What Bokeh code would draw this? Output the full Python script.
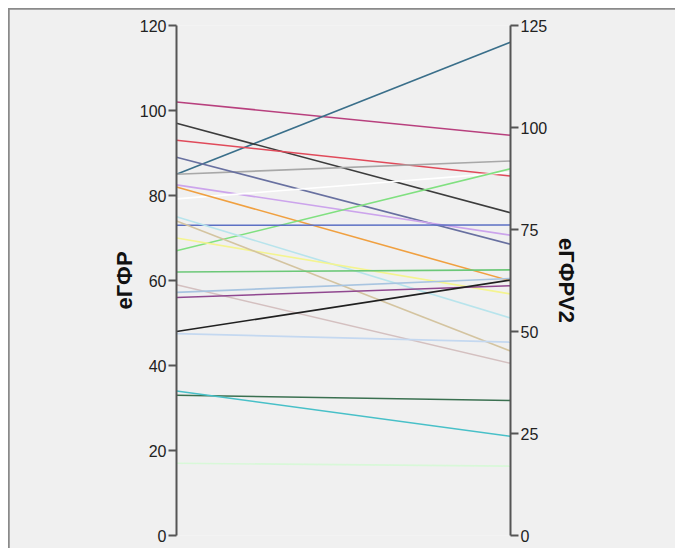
from bokeh.plotting import figure
from bokeh.models import Range1d, LinearAxis, FixedTicker
from bokeh.embed import file_html
from bokeh.resources import INLINE

# eGFR at visit 1 (left axis) and visit 2 (right axis), one line per patient
egfr_v1 = [102, 85, 97, 93, 85, 89, 82.5, 79.2, 82, 67, 73, 75, 70, 74, 62, 59, 57.2, 56, 48, 47.5, 33, 34, 17]
egfr_v2 = [98.1, 120.9, 79.1, 88.1, 91.8, 71.4, 73.6, 89.0, 62.4, 89.9, 76.1, 53.3, 59.2, 45.2, 65.1, 42.2, 63.0, 61.2, 62.6, 47.4, 33.1, 24.3, 17.0]
line_colors = ["#b8407e", "#3a6f8a", "#3c3c3c", "#e04a5a", "#a8a8a8", "#6870a0",
               "#cca4ec", "#ffffff", "#f0a040", "#80e080", "#5c70c4", "#b8e4ec",
               "#f4f490", "#d4c4a0", "#6cc878", "#d4c0c0", "#a8c4e0", "#904890",
               "#202020", "#c4d8f0", "#3a7050", "#48c0c8", "#d8f8d8"]

left_ticks = [0, 20, 40, 60, 80, 100, 120]
right_ticks = [0, 25, 50, 75, 100, 125]
left_title = "еГФР"
right_title = "еГФРV2"
LEFT_MAX = 120
RIGHT_MAX = 125

BG = "#f0f0f0"
AXIS_COLOR = "#555555"
FONT = "Liberation Sans"

p = figure(width=666, height=539, output_backend="svg", toolbar_location=None,
           x_range=Range1d(0, 1), y_range=Range1d(0, LEFT_MAX),
           min_border_left=167, min_border_right=165, min_border_top=16, min_border_bottom=13,
           background_fill_color=BG, border_fill_color=BG, outline_line_color=None,
           x_axis_location=None, y_axis_location=None)
p.extra_y_ranges = {"v2": Range1d(0, RIGHT_MAX)}
p.grid.visible = False
p.styles = {"margin": "9px 0 0 9px", "outline": "2px solid #8a8a8a", "outline-offset": "-1px"}

# map visit-2 values onto the shared frame height (parallel coordinates)
scale = LEFT_MAX / RIGHT_MAX
for a, b, c in zip(egfr_v1, egfr_v2, line_colors):
    p.line([0, 1], [a, b * scale], line_color=c, line_width=1.6)

def style_axis(ax, ticks, title, standoff):
    ax.ticker = FixedTicker(ticks=ticks)
    ax.axis_label = title
    ax.axis_label_text_font = FONT
    ax.axis_label_text_font_style = "bold"
    ax.axis_label_text_font_size = "22px"
    ax.axis_label_text_color = "#111111"
    ax.axis_label_standoff = standoff
    ax.major_label_text_font = FONT
    ax.major_label_text_font_size = "16px"
    ax.major_label_text_color = "#222222"
    ax.major_label_standoff = 2
    ax.axis_line_color = AXIS_COLOR
    ax.axis_line_width = 2
    ax.major_tick_line_color = AXIS_COLOR
    ax.major_tick_line_width = 2
    ax.major_tick_out = 8
    ax.major_tick_in = 0
    ax.minor_tick_line_color = None

left_axis = LinearAxis()
style_axis(left_axis, left_ticks, left_title, 0)
p.add_layout(left_axis, "left")

right_axis = LinearAxis(y_range_name="v2")
style_axis(right_axis, right_ticks, right_title, 4)
p.add_layout(right_axis, "right")

open("out.html", "w").write(file_html(p, INLINE))
